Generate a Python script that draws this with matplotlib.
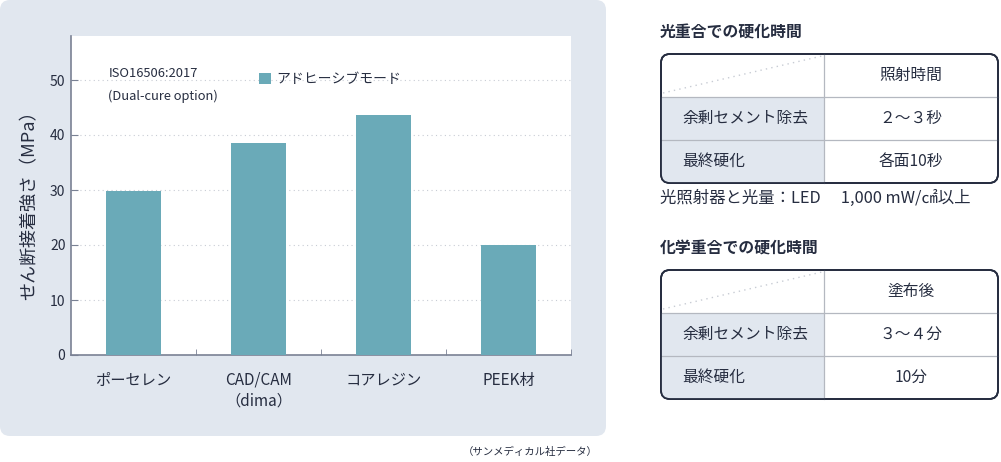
import numpy as np
import matplotlib
matplotlib.use('Agg')
import matplotlib.pyplot as plt
from matplotlib.patches import FancyBboxPatch, Rectangle

plt.rcParams['font.family'] = ['Noto Sans CJK JP', 'DejaVu Sans']

# chart data
materials = ['ポーセレン', 'CAD/CAM\n（dima）', 'コアレジン', 'PEEK材']
strength = [29.9, 38.6, 43.7, 20.0]
yticks = [0, 10, 20, 30, 40, 50]

# table data
light_title = '光重合での硬化時間'
light_header = '照射時間'
light_rows = ['余剰セメント除去', '最終硬化']
light_vals = ['２～３秒', '各面10秒']
light_note = '光照射器と光量：LED　 1,000 mW/㎠以上'
chem_title = '化学重合での硬化時間'
chem_header = '塗布後'
chem_rows = ['余剰セメント除去', '最終硬化']
chem_vals = ['３～４分', '10分']

W, H = 1001, 462
navy = '#262d40'
panel = '#e1e7ef'
bar_c = '#6aaab8'

fig = plt.figure(figsize=(W / 100, H / 100), dpi=100)

# full-figure pixel canvas
bg = fig.add_axes([0, 0, 1, 1])
bg.set_xlim(0, W)
bg.set_ylim(H, 0)
bg.axis('off')
bg.set_zorder(0)

bg.add_patch(FancyBboxPatch((0, 0), 606, 436, boxstyle='round,pad=0,rounding_size=10',
                            facecolor=panel, edgecolor='none'))
bg.text(530, 452, '（サンメディカル社データ）', ha='center', va='center', fontsize=7.5, color=navy)


def px_axes(l, t, r, b):
    return fig.add_axes([l / W, 1 - b / H, (r - l) / W, (b - t) / H])


# bar chart
ax = px_axes(71, 36, 571, 355)
ax.set_zorder(1)
ax.set_facecolor('white')
x = np.arange(len(materials))
ax.bar(x, strength, width=0.44, color=bar_c, zorder=3, label='アドヒーシブモード')
ax.set_xlim(-0.5, len(materials) - 0.5)
ax.set_ylim(0, 58)
ax.set_yticks(yticks)
ax.set_yticklabels([str(v) for v in yticks], fontsize=10, color=navy)
ax.set_xticks(x)
ax.set_xticklabels(materials, fontsize=11, color=navy, linespacing=1.3)
ax.tick_params(axis='x', length=0, pad=12)
ax.tick_params(axis='y', direction='in', length=5, color='#7a8194', pad=4)
ax.set_xticks(np.arange(len(materials)) + 0.5, minor=True)
ax.tick_params(axis='x', which='minor', direction='in', length=4, color='#7a8194')
for v in yticks[1:]:
    ax.axhline(v, color='#c8ccd4', linestyle=(0, (1, 3)), linewidth=0.8, zorder=1)
for s in ['top', 'right']:
    ax.spines[s].set_visible(False)
for s in ['left', 'bottom']:
    ax.spines[s].set_color('#7a8194')
    ax.spines[s].set_linewidth(1.2)
ax.set_ylabel('せん断接着強さ（MPa）', fontsize=13, color=navy)
ax.yaxis.set_label_coords(-0.066, 0.483)
ax.text(0.076, 0.881, 'ISO16506:2017', transform=ax.transAxes, fontsize=9.3, color=navy, va='center')
ax.text(0.073, 0.812, '(Dual-cure option)', transform=ax.transAxes, fontsize=9.3, color=navy, va='center')
ax.legend(loc='upper left', bbox_to_anchor=(0.35, 0.925), frameon=False, fontsize=10,
          handlelength=0.9, handleheight=0.9, handletextpad=0.4, labelcolor=navy)


def draw_table(top, title, header, rows, vals):
    left, mid, right = 661, 824, 998
    rh = 43
    bottom = top + 3 * rh
    bg.text(660, top - 21, title, fontsize=11.4, fontweight='bold', color=navy, va='center')
    frame = FancyBboxPatch((left, top), right - left, bottom - top,
                           boxstyle='round,pad=0,rounding_size=9',
                           facecolor='white', edgecolor=navy, linewidth=1.3, zorder=2)
    bg.add_patch(frame)
    shade = Rectangle((left, top + rh), mid - left, 2 * rh, facecolor=panel, edgecolor='none', zorder=3)
    bg.add_patch(shade)
    shade.set_clip_path(frame)
    for k in (1, 2):
        bg.plot([left, right], [top + k * rh, top + k * rh], color='#b4b8c0', lw=0.9, zorder=4)
    bg.plot([mid, mid], [top, bottom], color='#b4b8c0', lw=0.9, zorder=4)
    bg.plot([left + 2, mid - 2], [top + rh - 4, top + 2], color='#c8ccd4', lw=1.0,
            linestyle=(0, (1, 3)), zorder=4)
    frame2 = FancyBboxPatch((left, top), right - left, bottom - top,
                            boxstyle='round,pad=0,rounding_size=9',
                            facecolor='none', edgecolor=navy, linewidth=1.3, zorder=5)
    bg.add_patch(frame2)
    cx = (mid + right) / 2
    bg.text(cx, top + rh / 2, header, ha='center', va='center', fontsize=11.3, color=navy, zorder=6)
    for i, (r, v) in enumerate(zip(rows, vals)):
        y = top + rh * (i + 1.5)
        bg.text(682, y, r, ha='left', va='center', fontsize=11.3, color=navy, zorder=6)
        bg.text(cx, y, v, ha='center', va='center', fontsize=11.3, color=navy, zorder=6)
    return bottom


b1 = draw_table(54, light_title, light_header, light_rows, light_vals)
bg.text(660, b1 + 15, light_note, fontsize=11.8, color=navy, va='center')
draw_table(270, chem_title, chem_header, chem_rows, chem_vals)

fig.savefig('out.png', dpi=100)
